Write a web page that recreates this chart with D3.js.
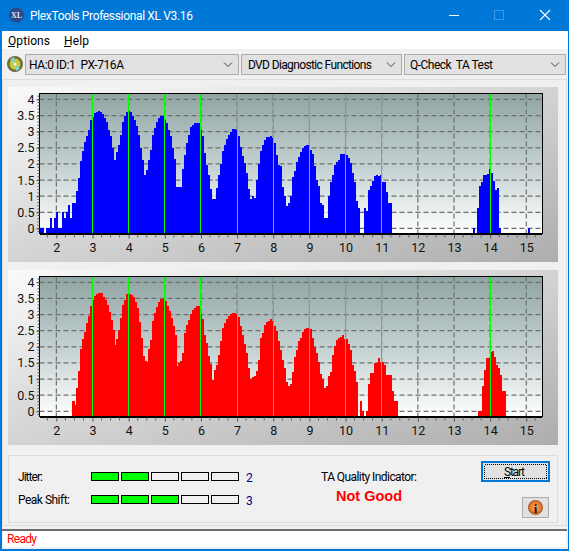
<!DOCTYPE html>
<html><head><meta charset="utf-8">
<script src="https://cdnjs.cloudflare.com/ajax/libs/d3/7.8.5/d3.min.js"></script>
<style>html,body{margin:0;padding:0;background:#f0f0f0;overflow:hidden}svg{display:block}text{font-family:Roboto,"Open Sans",sans-serif;white-space:pre}</style>
</head><body><svg id="c" width="569" height="551"></svg>
<script>
const xTicks=[2,3,4,5,6,7,8,9,10,11,12,13,14,15];
const yTicks=[0,.5,1,1.5,2,2.5,3,3.5,4];
const yLabels=["0","0.5","1","1.5","2","2.5","3","3.5","4"];
const greenMarks=[3,4,5,6,7,8,9,10,11,14];
const binWidth=0.0553;
const blueMainStart=1.55;
const blueMain=[0,0,null,0,0,.33,0,.33,.5,0,0,.5,.33,.5,.72,.33,.8,.8,1.16,1.55,2.1,2.4,2.67,2.85,3.06,3.35,3.45,3.58,3.62,3.63,3.62,3.55,3.42,3.3,3.05,2.85,2.5,2.12,2.38,2.6,2.9,3.3,3.47,3.6,3.63,3.6,3.5,3.37,3.16,2.9,2.5,2.13,1.66,1.82,2.13,2.44,2.9,3.1,3.3,3.42,3.47,3.47,3.37,3.26,3.06,2.85,2.5,2.15,1.28,1.28,1.28,1.84,2.28,2.64,2.9,3.13,3.2,3.26,3.28,3.28,
3.05,2.85,2.35,1.96,1.65,1.22,.9,.9,1.25,1.67,2,2.4,2.6,2.76,2.9,3,3.07,3.07,3.05,2.88,2.53,2.25,2.03,1.72,1.22,.9,1,.95,1.5,2,2.4,2.6,2.75,2.82,2.83,2.86,2.8,2.66,2.28,1.97,1.95,1.28,1,.7,.78,1,1.6,1.77,2.06,2.2,2.36,2.5,2.55,2.58,2.58,2.43,2.32,1.92,1.5,1.33,.78,.73,.33,.33,1,1.43,1.67,1.96,2.06,2.13,2.32,2.32,2.31,2.28,2.18,2.03,1.72,1.43,.85,.64,null,null,.64,.55,1.18,1.33,1.46,1.62,1.65,1.62,1.67,1.45,1.43,1.13,.78,.78];
const blueIslandStart=13.525;
const blueIsland=[0,null,.63,1.3,1.43,1.65,1.65,1.68,1.84,1.72,1.47,1.2,1.25,0];
const blueLastStart=15.04;
const blueLast=[0];
const redMainStart=2.44;
const redMain=[.32,.2,.72,1.25,1.93,2.24,2.47,2.73,2.95,3.25,3.45,3.58,3.64,3.67,3.67,3.55,3.45,3.3,3.09,2.83,2.52,2.06,2.24,2.52,2.88,3.3,3.45,3.64,3.65,3.6,3.53,3.4,3.2,2.78,2.26,1.73,1.57,1.54,1.93,2.2,2.8,3.04,3.22,3.4,3.47,3.48,3.43,3.27,3.12,2.88,2.65,2.37,1.41,1.49,1.56,1.8,2.42,2.68,2.83,3.02,3.14,3.21,3.25,3.27,
3.02,2.86,2.37,2.13,1.72,1.47,.97,1.28,1.44,1.75,2.18,2.57,2.73,2.85,2.94,3.02,3.05,3.05,3.02,2.92,2.66,2.37,2.09,1.8,1.34,1,1.05,1.1,1.25,1.6,2.26,2.44,2.68,2.76,2.81,2.85,2.8,2.65,2.5,2.19,1.9,1.59,1.33,.92,.78,.85,1.23,1.67,1.9,2.19,2.28,2.47,2.54,2.58,2.58,2.54,2.26,2,1.8,1.54,1.16,.99,.72,.78,1.1,1.22,1.75,2.03,2.21,2.26,2.31,2.37,2.24,2.24,2.1,1.9,1.44,1.26,.91,null,.32,0,null,0,.85,1.18,1.18,1.49,1.49,1.64,1.52,1.52,1.44,1.13,1.13,1.13,.64,.32,.32];
const redIslandStart=13.66;
const redIsland=[0,0,.78,1.28,1.66,1.66,1.84,1.87,1.67,1.44,1.35,1.13,.63,.63];
const jitterLevels=[1,1,0,0,0];
const peakLevels=[1,1,1,0,0];

const svg=d3.select("#c");
const defs=svg.append("defs");
function grad(id,stops,x2,y2){const g=defs.append("linearGradient").attr("id",id).attr("x1",0).attr("y1",0).attr("x2",x2).attr("y2",y2);
 stops.forEach(s=>g.append("stop").attr("offset",s[0]).attr("stop-color",s[1]));}
grad("panel",[[0,"#fafafa"],[1,"#adadad"]],1,1);
grad("plot",[[0,"#90a4a4"],[.55,"#c8d4d4"],[1,"#ffffff"]],0,1);
const disc=defs.append("radialGradient").attr("id","orange");
[[0,"#ffb070"],[.7,"#e07a30"],[1,"#a85a25"]].forEach(s=>disc.append("stop").attr("offset",s[0]).attr("stop-color",s[1]));

function R(x,y,w,h,f,s){return svg.append("rect").attr("x",x).attr("y",y).attr("width",w).attr("height",h).attr("fill",f).attr("stroke",s||"none").attr("shape-rendering","crispEdges");}
function T(x,y,t,size,col,len,extra){const e=svg.append("text").attr("x",x).attr("y",y).text(t).attr("font-size",size).attr("fill",col||"#000");if(len)e.attr("textLength",len).attr("lengthAdjust","spacing");if(extra)extra(e);return e;}
function L(x1,y1,x2,y2,c,w){return svg.append("line").attr("x1",x1).attr("y1",y1).attr("x2",x2).attr("y2",y2).attr("stroke",c).attr("stroke-width",w||1);}

// window chrome
R(0,0,569,551,"#f0f0f0");
R(0,0,569,31,"#0078d7");
R(0,0,1.5,551,"#0078d7");R(567.5,0,1.5,551,"#0078d7");R(0,549,569,2,"#0078d7");
svg.append("circle").attr("cx",16.5).attr("cy",15).attr("r",7.5).attr("fill","#2c4a86");
T(16.5,18,"XL",8,"#d8e2f2",null,e=>e.attr("text-anchor","middle").attr("font-weight","bold").style("font-family","Liberation Serif"));
T(30,20,"PlexTools Professional XL V3.16",12,"#fff",163);
L(449,15.5,459,15.5,"#fff");
svg.append("rect").attr("x",494.5).attr("y",10.5).attr("width",9).attr("height",9).attr("fill","none").attr("stroke","#3f95df");
L(540,10,550,20,"#fff",1.1);L(550,10,540,20,"#fff",1.1);
R(1.5,31,566,18,"#fff");
T(8,45,"Options",12,"#000",42);L(8,46.5,15,46.5,"#000");
T(64,45,"Help",12,"#000",25);L(64,46.5,71,46.5,"#000");

svg.append("circle").attr("cx",15).attr("cy",64).attr("r",8).attr("fill","#6d6a3c");
svg.append("circle").attr("cx",15).attr("cy",64).attr("r",5.5).attr("fill","#c9c83a");
svg.append("path").attr("d","M15 64L10 59L14 57ZM15 64L20 69L16 71Z").attr("fill","#7ad7d0");
svg.append("circle").attr("cx",15).attr("cy",64).attr("r",1.5).attr("fill","#f0f0f0");
function combo(x,w,t,tx,tl){R(x+.5,54.5,w,20,"#e1e1e1","#adadad");T(tx,69,t,12,"#000",tl);
 svg.append("path").attr("d",`M${x+w-14} 62.5l4 4l4 -4`).attr("fill","none").attr("stroke","#444");}
combo(25,213,"HA:0 ID:1  PX-716A",29,95);combo(241,160,"DVD Diagnostic Functions",248,124);combo(404,161,"Q-Check  TA Test",410,83);

svg.append("rect").attr("x",2.5).attr("y",79.5).attr("width",564).attr("height",446).attr("fill","none").attr("stroke","#dcdcdc").attr("shape-rendering","crispEdges");

// chart panels
const x=d3.scaleLinear().domain([2,15]).range([56.35,526.3]);
const left=39.5,right=542;
function panel(py,ph,top,bot,y4,y0,datasets,color){
 R(8,py,550,ph,"url(#panel)");
 const y=d3.scaleLinear().domain([0,4]).range([y0,y4]);
 R(left,top,right-left,bot-top,"url(#plot)");
 const g=svg.append("g");
 g.selectAll("line.h").data(yTicks).join("line").attr("x1",left).attr("x2",right).attr("y1",d=>y(d)).attr("y2",d=>y(d))
  .attr("stroke","#6f6f6f").attr("stroke-width",1.2).attr("stroke-dasharray","5,3");
 g.selectAll("line.v").data(xTicks).join("line").attr("x1",d=>x(d)).attr("x2",d=>x(d)).attr("y1",top).attr("y2",bot)
  .attr("stroke","#6f6f6f").attr("stroke-width",1.2).attr("stroke-dasharray","5,3");
 datasets.forEach(ds=>{
  g.append("g").selectAll("rect").data(ds.values.map((v,i)=>({v,i})).filter(d=>d.v!==null)).join("rect")
   .attr("x",d=>x(ds.start+d.i*binWidth)).attr("width",x(binWidth)-x(0)+.3)
   .attr("y",d=>y(d.v)).attr("height",d=>bot-y(d.v)).attr("fill",color).attr("shape-rendering","crispEdges");
 });
 g.selectAll("line.g").data(greenMarks).join("line").attr("x1",d=>Math.floor(x(d))+.5).attr("x2",d=>Math.floor(x(d))+.5).attr("y1",top).attr("y2",bot)
  .attr("stroke","#00ff00").attr("stroke-width",1).attr("shape-rendering","crispEdges");
 // frame
 svg.append("rect").attr("x",left).attr("y",top).attr("width",right-left).attr("height",bot-top).attr("fill","none").attr("stroke","#000").attr("shape-rendering","crispEdges");
 L(left,bot+.5,right,bot+.5,"#000",2).attr("shape-rendering","crispEdges");
 // axes
 const ax=svg.append("g").attr("transform",`translate(0,${bot+1})`).call(d3.axisBottom(x).tickValues(xTicks).tickSize(4).tickFormat(d3.format("d")));
 ax.select(".domain").remove();ax.selectAll("line").attr("stroke","#555");
 ax.selectAll("text").attr("font-size",12.5).attr("fill","#111").attr("dy",0).attr("y",17).style("font-family","Roboto");
 const minor=d3.range(1.75,15.5,.25).filter(d=>d%1!==0);
 svg.append("g").selectAll("line").data(minor).join("line").attr("x1",d=>x(d)).attr("x2",d=>x(d)).attr("y1",bot+1).attr("y2",bot+4).attr("stroke","#666");
 const ay=svg.append("g").attr("transform",`translate(${left},0)`).call(d3.axisLeft(y).tickValues(yTicks).tickSize(3).tickFormat((d,i)=>yLabels[i]));
 ay.select(".domain").remove();ay.selectAll("line").attr("stroke","#444");
 ay.selectAll("text").attr("font-size",12.5).attr("fill","#111").attr("x",-5).style("font-family","Roboto");
 const yMinor=d3.range(-.1,4.2,.1);
 svg.append("g").selectAll("line").data(yMinor).join("line").attr("x1",left-2).attr("x2",left).attr("y1",d=>y(d)).attr("y2",d=>y(d)).attr("stroke","#555");
}
panel(87,175,93.5,233.5,99.4,228.4,[{start:blueMainStart,values:blueMain},{start:blueIslandStart,values:blueIsland},{start:blueLastStart,values:blueLast}],"#0000ff");
panel(270,175,276.5,416.5,282.3,411.3,[{start:redMainStart,values:redMain},{start:redIslandStart,values:redIsland}],"#ff0000");

// lower group
svg.append("rect").attr("x",8.5).attr("y",455.5).attr("width",549).attr("height",67).attr("fill","none").attr("stroke","#dcdcdc").attr("shape-rendering","crispEdges");
function meter(y,levels,label,num,len){
 T(18,y+9,label,12,"#000",len);
 svg.append("g").selectAll("rect").data(levels).join("rect").attr("x",(d,i)=>91.5+i*30).attr("y",y+.5).attr("width",27).attr("height",8)
  .attr("fill",d=>d?"#00ff00":"#f0f0f0").attr("stroke","#000").attr("shape-rendering","crispEdges");
 T(246,y+9.5,num,12,"#000080");
}
meter(472,jitterLevels,"Jitter:","2",25);
meter(495,peakLevels,"Peak Shift:","3",52);
T(321,481,"TA Quality Indicator:",12,"#000",96);
T(336,501,"Not Good",14.5,"#ff0000",66,e=>e.attr("font-weight","bold").style("font-family","Liberation Sans"));
R(482,462,67,19,"#e1e1e1","#0078d7").attr("stroke-width",2);
svg.append("rect").attr("x",484.5).attr("y",464.5).attr("width",62).attr("height",14).attr("fill","none").attr("stroke","#000").attr("stroke-dasharray","1,1").attr("shape-rendering","crispEdges");
T(504,476,"Start",12,"#000",21);L(504,477.5,510,477.5,"#000");
R(522.5,497.5,26,20,"#e1e1e1","#adadad");
svg.append("circle").attr("cx",535.5).attr("cy",507.5).attr("r",7.5).attr("fill","url(#orange)");
T(535.5,512.5,"i",13,"#301000",null,e=>e.attr("text-anchor","middle").attr("font-weight","bold").style("font-family","Liberation Serif"));

// status bar
R(1.5,529,566,20,"#f0f0f0");
L(2,530,567,530,"#6d6d6d",2).attr("shape-rendering","crispEdges");
R(3,531,563,16,"#fff");
T(7,543,"Ready",12,"#ff0000",30);
</script></body></html>
